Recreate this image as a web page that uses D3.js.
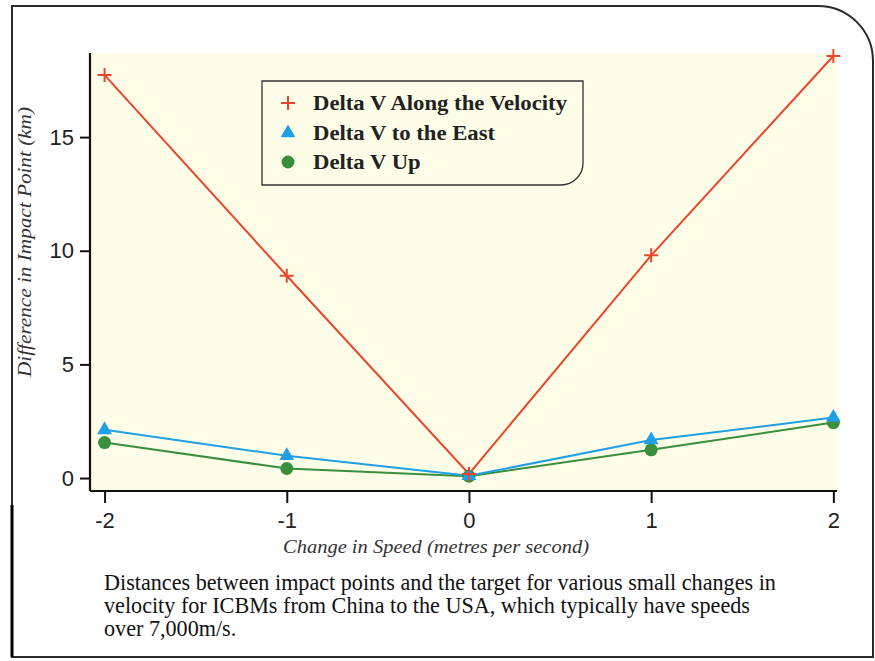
<!DOCTYPE html>
<html><head><meta charset="utf-8">
<script src="https://cdn.jsdelivr.net/npm/d3@7"></script>
<style>body{margin:0;background:#fff}svg{display:block}</style>
</head><body>
<svg id="c" width="875" height="661"></svg>
<script>
const speedChange = [-2, -1, 0, 1, 2];
const alongVelocity = [17.73, 8.9, 0.18, 9.8, 18.57];
const toEast = [2.12, 0.98, 0.1, 1.67, 2.66];
const up = [1.56, 0.42, 0.08, 1.24, 2.44];
const xTicks = [-2, -1, 0, 1, 2];
const yTicks = [0, 5, 10, 15];
const seriesNames = ["Delta V Along the Velocity", "Delta V to the East", "Delta V Up"];
const seriesColors = ["#e8472e", "#1f9fe6", "#3a8f3c"];
const captionLines = [
  "Distances between impact points and the target for various small changes in",
  "velocity for ICBMs from China to the USA, which typically have speeds",
  "over 7,000m/s."
];

const svg = d3.select("#c");
const serif = "'Liberation Serif', 'Times New Roman', serif";
const sans = "'Liberation Sans', Arial, sans-serif";
// outer frame
svg.append("path")
  .attr("d", "M12,657 L12,6 L818,6 A55,55 0 0 1 873,61 L873,657 Z")
  .attr("fill", "none").attr("stroke", "#2a2a2a").attr("stroke-width", 2);
svg.append("line").attr("x1", 12).attr("x2", 12).attr("y1", 505).attr("y2", 657)
  .attr("stroke", "#000").attr("stroke-width", 3);

const x = d3.scaleLinear().domain([-2.08, 2.02]).range([90, 837]);
const y = d3.scaleLinear().domain([-0.57, 18.7]).range([491, 53]);

// plot background
svg.append("rect").attr("x", 90).attr("y", 53).attr("width", 747).attr("height", 438)
  .attr("fill", "#fefde8");

// axes
const fmt = d => String(d);
const xAxis = svg.append("g").attr("transform", "translate(0,491)")
  .call(d3.axisBottom(x).tickValues(xTicks).tickFormat(fmt).tickSize(12).tickPadding(9).tickSizeOuter(0));
const yAxis = svg.append("g").attr("transform", "translate(90,0)")
  .call(d3.axisLeft(y).tickValues(yTicks).tickFormat(fmt).tickSize(10).tickPadding(6).tickSizeOuter(0));
[xAxis, yAxis].forEach(g => {
  g.select(".domain").attr("stroke", "#111").attr("stroke-width", 2.2);
  g.selectAll(".tick line").attr("stroke", "#111").attr("stroke-width", 2);
  g.selectAll(".tick text").attr("font-family", sans)
    .attr("font-size", 22).attr("fill", "#222");
});
xAxis.select(".domain").attr("d", `M${x(-2.08)},0H${x(2.02)}`);
yAxis.select(".domain").attr("d", `M0,${y(18.7)}V${y(-0.57)}`);

// axis titles
svg.append("text").attr("x", 436).attr("y", 553).attr("text-anchor", "middle")
  .attr("font-family", serif).attr("font-style", "italic")
  .attr("font-size", 19).attr("textLength", 306).attr("lengthAdjust", "spacingAndGlyphs")
  .attr("fill", "#333").text("Change in Speed (metres per second)");
svg.append("text").attr("transform", "translate(31,242) rotate(-90)").attr("text-anchor", "middle")
  .attr("font-family", serif).attr("font-style", "italic")
  .attr("font-size", 19).attr("textLength", 270).attr("lengthAdjust", "spacingAndGlyphs")
  .attr("fill", "#333").text("Difference in Impact Point (km)");

// lines
const seriesData = [alongVelocity, toEast, up];
const line = d3.line().x((d, i) => x(speedChange[i])).y(d => y(d));
[2, 1, 0].forEach(k => {
  svg.append("path").datum(seriesData[k]).attr("d", line)
    .attr("fill", "none").attr("stroke", seriesColors[k]).attr("stroke-width", 2);
});

function marker(g, k, cx, cy) {
  if (k === 0) {
    g.append("path").attr("d", `M${cx-7},${cy}H${cx+7}M${cx},${cy-7}V${cy+7}`)
      .attr("stroke", seriesColors[0]).attr("stroke-width", 2).attr("fill", "none");
  } else if (k === 1) {
    g.append("path").attr("d", d3.symbol(d3.symbolTriangle, 95)()).attr("transform", `translate(${cx},${cy})`)
      .attr("fill", seriesColors[1]);
  } else {
    g.append("circle").attr("cx", cx).attr("cy", cy).attr("r", 6.5).attr("fill", seriesColors[2]);
  }
}
const mg = svg.append("g");
[2, 1, 0].forEach(k => {
  seriesData[k].forEach((v, i) => marker(mg, k, x(speedChange[i]), y(v)));
});

// legend
svg.append("path")
  .attr("d", "M262,81 H583 V163 A22,22 0 0 1 561,185 H262 Z")
  .attr("fill", "#fefde8").attr("stroke", "#333").attr("stroke-width", 1.3);
const legY = [103, 133, 162];
let legFactor = 1;
seriesNames.forEach((n, k) => {
  marker(svg, k, 288, legY[k]);
  const t = svg.append("text").attr("x", 313).attr("y", legY[k] + 7)
    .attr("font-family", serif).attr("font-weight", "bold")
    .attr("font-size", 20.5).attr("fill", "#222").text(n);
  const w = t.node().getComputedTextLength();
  if (k === 0) legFactor = 254 / w;
  t.attr("textLength", w * legFactor).attr("lengthAdjust", "spacingAndGlyphs");
});

// caption (slightly condensed serif)
captionLines.forEach((t, i) => {
  const tx = svg.append("text").attr("x", 104).attr("y", 590 + i * 23)
    .attr("font-family", serif)
    .attr("font-size", 23).attr("fill", "#111").text(t);
  const w = tx.node().getComputedTextLength();
  tx.attr("textLength", w * 0.963).attr("lengthAdjust", "spacingAndGlyphs");
});
</script>
</body></html>
